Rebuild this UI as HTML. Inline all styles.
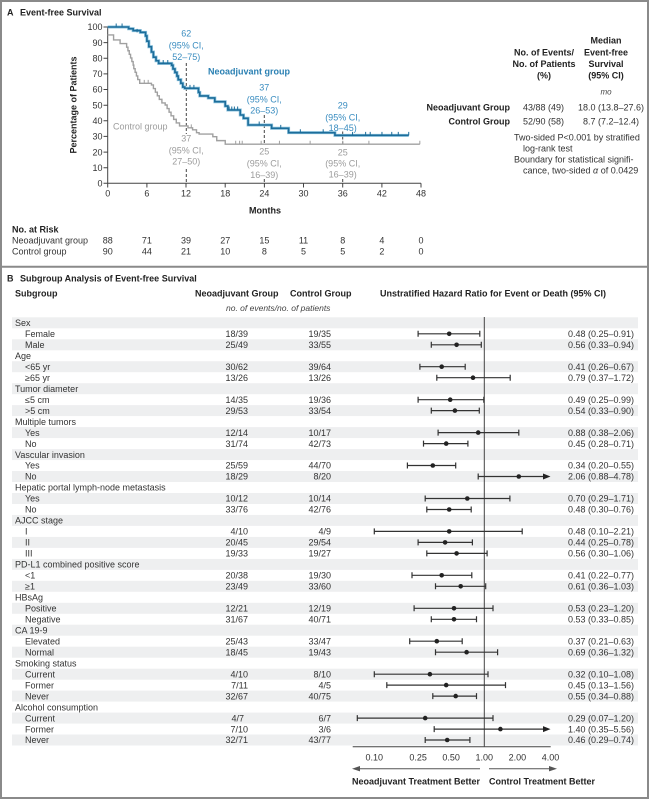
<!DOCTYPE html>
<html><head><meta charset="utf-8"><style>
html,body{margin:0;padding:0;background:#fff;}
svg{display:block;font-family:"Liberation Sans",Arial,sans-serif;font-size:9px;}
.b{font-weight:700;}
.i{font-style:italic;}
</style></head><body>
<svg width="651" height="800" viewBox="0 0 651 800" xmlns="http://www.w3.org/2000/svg">
<rect x="0" y="0" width="651" height="800" fill="#fff"/>
<rect x="1" y="1" width="647" height="797" fill="none" stroke="#8a8a8a" stroke-width="2"/>
<line x1="0" y1="266.7" x2="649" y2="266.7" stroke="#8a8a8a" stroke-width="2"/>

<!-- Panel A -->
<text x="7" y="15.5" class="b" fill="#222">A</text>
<text x="20" y="15.5" class="b" fill="#222">Event-free Survival</text>

<!-- axes -->
<g stroke="#444" stroke-width="1" fill="none">
<line x1="107.7" y1="26.5" x2="107.7" y2="183.3"/>
<line x1="107.7" y1="183.3" x2="421" y2="183.3"/>
<path d="M103.5,27h4.2M103.5,42.6h4.2M103.5,58.3h4.2M103.5,73.9h4.2M103.5,89.5h4.2M103.5,105.2h4.2M103.5,120.8h4.2M103.5,136.4h4.2M103.5,152.1h4.2M103.5,167.7h4.2M103.5,183.3h4.2"/>
<path d="M107.7,183.3v4.2M146.9,183.3v4.2M186,183.3v4.2M225.2,183.3v4.2M264.4,183.3v4.2M303.5,183.3v4.2M342.7,183.3v4.2M381.9,183.3v4.2M421,183.3v4.2"/>
</g>
<g fill="#333" text-anchor="end">
<text x="102.5" y="30.2">100</text>
<text x="102.5" y="45.8">90</text>
<text x="102.5" y="61.5">80</text>
<text x="102.5" y="77.1">70</text>
<text x="102.5" y="92.7">60</text>
<text x="102.5" y="108.4">50</text>
<text x="102.5" y="124">40</text>
<text x="102.5" y="139.6">30</text>
<text x="102.5" y="155.3">20</text>
<text x="102.5" y="170.9">10</text>
<text x="102.5" y="186.5">0</text>
</g>
<g fill="#333" text-anchor="middle">
<text x="107.7" y="196.5">0</text>
<text x="146.9" y="196.5">6</text>
<text x="186" y="196.5">12</text>
<text x="225.2" y="196.5">18</text>
<text x="264.4" y="196.5">24</text>
<text x="303.5" y="196.5">30</text>
<text x="342.7" y="196.5">36</text>
<text x="381.9" y="196.5">42</text>
<text x="421" y="196.5">48</text>
</g>
<text x="265" y="213.5" class="b" fill="#222" text-anchor="middle">Months</text>
<text transform="translate(76.5,105) rotate(-90)" class="b" fill="#222" text-anchor="middle">Percentage of Patients</text>

<!-- dashed reference lines -->
<g stroke="#444" stroke-width="1" stroke-dasharray="3,2" fill="none">
<path d="M186.3,63V134M186.3,169V183"/>
<path d="M264.3,115V145M264.3,179V183"/>
<path d="M342.7,131.5V145M342.7,179V183"/>
</g>

<!-- KM curves -->
<g transform="translate(107.7,183.3) scale(6.53,-1.563)" fill="none">
<path vector-effect="non-scaling-stroke" stroke="#a0a0a0" stroke-width="1.4" d="M0,94.9 H0.9 V91.7 H1.9 V89.4 H2.9 V87.1 H3.1 V84.8 H3.3 V82.5 H3.5 V80.2 H3.7 V77.9 H3.9 V75.6 H4.0 V73.3 H4.2 V71 H4.4 V68.7 H4.6 V66.4 H4.9 V64 H6.7 V62.9 H7.0 V60.6 H7.3 V58.3 H7.6 V56 H7.9 V53.7 H8.3 V51.4 H8.8 V50.1 H9.1 V47.8 H9.4 V45.5 H9.7 V43.2 H10.1 V40.9 H10.5 V38.6 H11.0 V36.7 H12.3 V35.5 H13.0 V34.2 H13.6 V32.4 H14.0 V31.5 H16.1 V29.8 H16.7 V27.3 H18.0 V25 H47.8"/>
<path vector-effect="non-scaling-stroke" stroke="#a0a0a0" stroke-width="1" d="M5.6,64v2.2 M6.2,64v2.2 M12.8,35.5v2.2 M19.6,25v2.2 M20.2,25v2.2 M20.6,25v2.2 M23.5,25v2.2 M26.3,25v2.2 M31,25v2.2 M36,25v2.2 M40,25v2.2 M47.8,25v2.2"/>
<path vector-effect="non-scaling-stroke" stroke="#8cc3de" stroke-width="3" d="M0,100 H3.2 V98.9 H3.9 V97.7 H5.0 V96.6 H5.8 V94.3 H6.0 V90.9 H6.3 V87.4 H6.7 V84 H7.0 V80.7 H7.4 V78.4 H7.8 V76.7 H9.8 V75.5 H10.0 V73.2 H10.3 V70.9 H10.6 V68.6 H10.8 V66.3 H11.2 V64 H11.5 V61.6 H11.8 V60.8 H13.9 V58.2 H14.1 V55.9 H15.4 V54.6 H16.4 V52.2 H18.0 V49.4 H18.4 V46.9 H20.3 V43.7 H20.8 V41.6 H21.5 V37.3 H25.1 V35.2 H27.7 V32.4 H34.8 V30.7 H46.1"/>
<path vector-effect="non-scaling-stroke" stroke="#1d6d9a" stroke-width="1.6" d="M0,100 H3.2 V98.9 H3.9 V97.7 H5.0 V96.6 H5.8 V94.3 H6.0 V90.9 H6.3 V87.4 H6.7 V84 H7.0 V80.7 H7.4 V78.4 H7.8 V76.7 H9.8 V75.5 H10.0 V73.2 H10.3 V70.9 H10.6 V68.6 H10.8 V66.3 H11.2 V64 H11.5 V61.6 H11.8 V60.8 H13.9 V58.2 H14.1 V55.9 H15.4 V54.6 H16.4 V52.2 H18.0 V49.4 H18.4 V46.9 H20.3 V43.7 H20.8 V41.6 H21.5 V37.3 H25.1 V35.2 H27.7 V32.4 H34.8 V30.7 H46.1"/>
<path vector-effect="non-scaling-stroke" stroke="#1d6d9a" stroke-width="1" d="M1.3,100v2.2 M2.2,100v2.2 M4.5,96.6v2.2 M8.5,76.7v2.2 M9.2,76.7v2.2 M12.6,60.8v2.2 M13.2,60.8v2.2 M18.6,46.9v2.2 M19.0,46.9v2.2 M19.4,46.9v2.2 M19.9,46.9v2.2 M23.2,37.3v2.2 M26.5,35.2v2.2 M29.5,32.4v2.2 M33,32.4v2.2 M37.5,30.7v2.2 M39.5,30.7v2.2 M40.2,30.7v2.2 M42,30.7v2.2 M43.5,30.7v2.2 M44.5,30.7v2.2 M46.1,30.7v2.2"/>
</g>

<!-- annotations -->
<g fill="#3a8dc0" text-anchor="middle">
<text x="186.3" y="36.3">62</text>
<text x="186.3" y="48.3">(95% CI,</text>
<text x="186.3" y="60">52–75)</text>
<text x="264.3" y="90.3">37</text>
<text x="264.3" y="102.3">(95% CI,</text>
<text x="264.3" y="113.5">26–53)</text>
<text x="342.7" y="108.3">29</text>
<text x="342.7" y="120.5">(95% CI,</text>
<text x="342.7" y="131">18–45)</text>
</g>
<text x="208" y="74.5" class="b" fill="#2a80b3">Neoadjuvant group</text>
<g fill="#9c9c9c" text-anchor="middle">
<text x="186.3" y="141.3">37</text>
<text x="186.3" y="153.3">(95% CI,</text>
<text x="186.3" y="164.5">27–50)</text>
<text x="264.3" y="154.3">25</text>
<text x="264.3" y="166.3">(95% CI,</text>
<text x="264.3" y="177.8">16–39)</text>
<text x="342.7" y="155.3">25</text>
<text x="342.7" y="166.3">(95% CI,</text>
<text x="342.7" y="177.5">16–39)</text>
</g>
<text x="113" y="129.5" fill="#9c9c9c">Control group</text>

<!-- legend table -->
<g fill="#222" class="b" text-anchor="middle">
<text x="606" y="43.5">Median</text>
<text x="544" y="55.5">No. of Events/</text>
<text x="606" y="55.5">Event-free</text>
<text x="544" y="67">No. of Patients</text>
<text x="606" y="67">Survival</text>
<text x="544" y="78.5">(%)</text>
<text x="606" y="78.5">(95% CI)</text>
</g>
<text x="606" y="94.5" class="i" fill="#444" text-anchor="middle" font-size="8">mo</text>
<g class="b" fill="#222" text-anchor="end">
<text x="510" y="110.5">Neoadjuvant Group</text>
<text x="510" y="124.5">Control Group</text>
</g>
<g fill="#333">
<text x="523" y="110.5">43/88 (49)</text>
<text x="578" y="110.5">18.0 (13.8–27.6)</text>
<text x="523" y="124.5">52/90 (58)</text>
<text x="583" y="124.5">8.7 (7.2–12.4)</text>
<text x="514" y="140.5">Two-sided P&lt;0.001 by stratified</text>
<text x="523" y="151.5">log-rank test</text>
<text x="514" y="162.5">Boundary for statistical signifi-</text>
<text x="523" y="173.5">cance, two-sided <tspan class="i">α</tspan> of 0.0429</text>
</g>

<!-- risk table -->
<text x="12" y="232.5" class="b" fill="#222">No. at Risk</text>
<text x="12" y="243.5" fill="#333">Neoadjuvant group</text>
<text x="12" y="254.3" fill="#333">Control group</text>
<g fill="#333" text-anchor="middle">
<text x="107.7" y="243.5">88</text><text x="146.9" y="243.5">71</text><text x="186" y="243.5">39</text><text x="225.2" y="243.5">27</text><text x="264.4" y="243.5">15</text><text x="303.5" y="243.5">11</text><text x="342.7" y="243.5">8</text><text x="381.9" y="243.5">4</text><text x="421" y="243.5">0</text>
<text x="107.7" y="254.3">90</text><text x="146.9" y="254.3">44</text><text x="186" y="254.3">21</text><text x="225.2" y="254.3">10</text><text x="264.4" y="254.3">8</text><text x="303.5" y="254.3">5</text><text x="342.7" y="254.3">5</text><text x="381.9" y="254.3">2</text><text x="421" y="254.3">0</text>
</g>

<!-- Panel B -->
<text x="7" y="281.5" class="b" fill="#222">B</text>
<text x="20" y="281.5" class="b" fill="#222">Subgroup Analysis of Event-free Survival</text>
<g class="b" fill="#222">
<text x="15" y="296.5">Subgroup</text>
<text x="195" y="296.5">Neoadjuvant Group</text>
<text x="290" y="296.5">Control Group</text>
<text x="380" y="296.5">Unstratified Hazard Ratio for Event or Death (95% CI)</text>
</g>
<text x="226" y="311" class="i" fill="#444" font-size="8.5">no. of events/no. of patients</text>

<!-- shading -->
<g fill="#eeeff0">
<rect x="12" y="317.3" width="626" height="11"/>
<rect x="12" y="339.3" width="626" height="11"/>
<rect x="12" y="361.2" width="626" height="11"/>
<rect x="12" y="383.2" width="626" height="11"/>
<rect x="12" y="405.1" width="626" height="11"/>
<rect x="12" y="427.1" width="626" height="11"/>
<rect x="12" y="449.1" width="626" height="11"/>
<rect x="12" y="471.0" width="626" height="11"/>
<rect x="12" y="493.0" width="626" height="11"/>
<rect x="12" y="514.9" width="626" height="11"/>
<rect x="12" y="536.9" width="626" height="11"/>
<rect x="12" y="558.9" width="626" height="11"/>
<rect x="12" y="580.8" width="626" height="11"/>
<rect x="12" y="602.8" width="626" height="11"/>
<rect x="12" y="624.7" width="626" height="11"/>
<rect x="12" y="646.7" width="626" height="11"/>
<rect x="12" y="668.7" width="626" height="11"/>
<rect x="12" y="690.6" width="626" height="11"/>
<rect x="12" y="712.6" width="626" height="11"/>
<rect x="12" y="734.5" width="626" height="11"/>
</g>

<!-- row labels -->
<g fill="#333">
<text x="15" y="326">Sex</text>
<text x="25" y="337">Female</text>
<text x="25" y="348">Male</text>
<text x="15" y="358.9">Age</text>
<text x="25" y="369.9">&lt;65 yr</text>
<text x="25" y="380.9">≥65 yr</text>
<text x="15" y="391.9">Tumor diameter</text>
<text x="25" y="402.9">≤5 cm</text>
<text x="25" y="413.8">&gt;5 cm</text>
<text x="15" y="424.8">Multiple tumors</text>
<text x="25" y="435.8">Yes</text>
<text x="25" y="446.8">No</text>
<text x="15" y="457.8">Vascular invasion</text>
<text x="25" y="468.7">Yes</text>
<text x="25" y="479.7">No</text>
<text x="15" y="490.7">Hepatic portal lymph-node metastasis</text>
<text x="25" y="501.7">Yes</text>
<text x="25" y="512.7">No</text>
<text x="15" y="523.6">AJCC stage</text>
<text x="25" y="534.6">I</text>
<text x="25" y="545.6">II</text>
<text x="25" y="556.6">III</text>
<text x="15" y="567.6">PD-L1 combined positive score</text>
<text x="25" y="578.5">&lt;1</text>
<text x="25" y="589.5">≥1</text>
<text x="15" y="600.5">HBsAg</text>
<text x="25" y="611.5">Positive</text>
<text x="25" y="622.5">Negative</text>
<text x="15" y="633.4">CA 19-9</text>
<text x="25" y="644.4">Elevated</text>
<text x="25" y="655.4">Normal</text>
<text x="15" y="666.4">Smoking status</text>
<text x="25" y="677.4">Current</text>
<text x="25" y="688.3">Former</text>
<text x="25" y="699.3">Never</text>
<text x="15" y="710.3">Alcohol consumption</text>
<text x="25" y="721.3">Current</text>
<text x="25" y="732.3">Former</text>
<text x="25" y="743.2">Never</text>
</g>

<!-- neo counts -->
<g fill="#333" text-anchor="end">
<text x="248" y="337">18/39</text><text x="331" y="337">19/35</text><text x="634" y="337">0.48 (0.25–0.91)</text>
<text x="248" y="348">25/49</text><text x="331" y="348">33/55</text><text x="634" y="348">0.56 (0.33–0.94)</text>
<text x="248" y="369.9">30/62</text><text x="331" y="369.9">39/64</text><text x="634" y="369.9">0.41 (0.26–0.67)</text>
<text x="248" y="380.9">13/26</text><text x="331" y="380.9">13/26</text><text x="634" y="380.9">0.79 (0.37–1.72)</text>
<text x="248" y="402.9">14/35</text><text x="331" y="402.9">19/36</text><text x="634" y="402.9">0.49 (0.25–0.99)</text>
<text x="248" y="413.8">29/53</text><text x="331" y="413.8">33/54</text><text x="634" y="413.8">0.54 (0.33–0.90)</text>
<text x="248" y="435.8">12/14</text><text x="331" y="435.8">10/17</text><text x="634" y="435.8">0.88 (0.38–2.06)</text>
<text x="248" y="446.8">31/74</text><text x="331" y="446.8">42/73</text><text x="634" y="446.8">0.45 (0.28–0.71)</text>
<text x="248" y="468.7">25/59</text><text x="331" y="468.7">44/70</text><text x="634" y="468.7">0.34 (0.20–0.55)</text>
<text x="248" y="479.7">18/29</text><text x="331" y="479.7">8/20</text><text x="634" y="479.7">2.06 (0.88–4.78)</text>
<text x="248" y="501.7">10/12</text><text x="331" y="501.7">10/14</text><text x="634" y="501.7">0.70 (0.29–1.71)</text>
<text x="248" y="512.7">33/76</text><text x="331" y="512.7">42/76</text><text x="634" y="512.7">0.48 (0.30–0.76)</text>
<text x="248" y="534.6">4/10</text><text x="331" y="534.6">4/9</text><text x="634" y="534.6">0.48 (0.10–2.21)</text>
<text x="248" y="545.6">20/45</text><text x="331" y="545.6">29/54</text><text x="634" y="545.6">0.44 (0.25–0.78)</text>
<text x="248" y="556.6">19/33</text><text x="331" y="556.6">19/27</text><text x="634" y="556.6">0.56 (0.30–1.06)</text>
<text x="248" y="578.5">20/38</text><text x="331" y="578.5">19/30</text><text x="634" y="578.5">0.41 (0.22–0.77)</text>
<text x="248" y="589.5">23/49</text><text x="331" y="589.5">33/60</text><text x="634" y="589.5">0.61 (0.36–1.03)</text>
<text x="248" y="611.5">12/21</text><text x="331" y="611.5">12/19</text><text x="634" y="611.5">0.53 (0.23–1.20)</text>
<text x="248" y="622.5">31/67</text><text x="331" y="622.5">40/71</text><text x="634" y="622.5">0.53 (0.33–0.85)</text>
<text x="248" y="644.4">25/43</text><text x="331" y="644.4">33/47</text><text x="634" y="644.4">0.37 (0.21–0.63)</text>
<text x="248" y="655.4">18/45</text><text x="331" y="655.4">19/43</text><text x="634" y="655.4">0.69 (0.36–1.32)</text>
<text x="248" y="677.4">4/10</text><text x="331" y="677.4">8/10</text><text x="634" y="677.4">0.32 (0.10–1.08)</text>
<text x="248" y="688.3">7/11</text><text x="331" y="688.3">4/5</text><text x="634" y="688.3">0.45 (0.13–1.56)</text>
<text x="248" y="699.3">32/67</text><text x="331" y="699.3">40/75</text><text x="634" y="699.3">0.55 (0.34–0.88)</text>
<text x="244" y="721.3">4/7</text><text x="331" y="721.3">6/7</text><text x="634" y="721.3">0.29 (0.07–1.20)</text>
<text x="248" y="732.3">7/10</text><text x="331" y="732.3">3/6</text><text x="634" y="732.3">1.40 (0.35–5.56)</text>
<text x="248" y="743.2">32/71</text><text x="331" y="743.2">43/77</text><text x="634" y="743.2">0.46 (0.29–0.74)</text>
</g>

<!-- forest plot -->
<line x1="484.3" y1="317" x2="484.3" y2="746.7" stroke="#444" stroke-width="1"/>
<g stroke="#333" stroke-width="1.2" fill="none">
<path d="M418.1,333.8H479.8M418.1,330.8v6M479.8,330.8v6"/>
<path d="M431.3,344.8H481.3M431.3,341.8v6M481.3,341.8v6"/>
<path d="M419.9,366.7H465.2M419.9,363.7v6M465.2,363.7v6"/>
<path d="M436.8,377.7H510.2M436.8,374.7v6M510.2,374.7v6"/>
<path d="M418.1,399.7H483.8M418.1,396.7v6M483.8,396.7v6"/>
<path d="M431.3,410.6H479.3M431.3,407.6v6M479.3,407.6v6"/>
<path d="M438.1,432.6H518.8M438.1,429.6v6M518.8,429.6v6"/>
<path d="M423.5,443.6H467.9M423.5,440.6v6M467.9,440.6v6"/>
<path d="M407.4,465.5H455.7M407.4,462.5v6M455.7,462.5v6"/>
<path d="M478.2,476.5H545M478.2,473.5v6"/>
<path d="M425.2,498.5H509.9M425.2,495.5v6M509.9,495.5v6"/>
<path d="M426.8,509.5H471.2M426.8,506.5v6M471.2,506.5v6"/>
<path d="M374.3,531.4H522.2M374.3,528.4v6M522.2,528.4v6"/>
<path d="M418.1,542.4H472.4M418.1,539.4v6M472.4,539.4v6"/>
<path d="M426.8,553.4H487.1M426.8,550.4v6M487.1,550.4v6"/>
<path d="M412,575.3H471.8M412,572.3v6M471.8,572.3v6"/>
<path d="M435.5,586.3H485.7M435.5,583.3v6M485.7,583.3v6"/>
<path d="M414.1,608.3H493M414.1,605.3v6M493,605.3v6"/>
<path d="M431.3,619.3H476.5M431.3,616.3v6M476.5,616.3v6"/>
<path d="M409.7,641.2H462.2M409.7,638.2v6M462.2,638.2v6"/>
<path d="M435.5,652.2H497.6M435.5,649.2v6M497.6,649.2v6"/>
<path d="M374.3,674.2H488M374.3,671.2v6M488,671.2v6"/>
<path d="M386.8,685.1H505.5M386.8,682.1v6M505.5,682.1v6"/>
<path d="M432.8,696.1H476.5M432.8,693.1v6M476.5,693.1v6"/>
<path d="M357.3,718.1H493M357.3,715.1v6M493,715.1v6"/>
<path d="M434.2,729.1H545M434.2,726.1v6"/>
<path d="M425.2,740H469.9M425.2,737v6M469.9,737v6"/>
</g>
<g fill="#222">
<polygon points="543,473.5 550.5,476.5 543,479.5"/>
<polygon points="543,726.1 550.5,729.1 543,732.1"/>
<circle cx="449.2" cy="333.8" r="2.3"/>
<circle cx="456.6" cy="344.8" r="2.3"/>
<circle cx="441.7" cy="366.7" r="2.3"/>
<circle cx="473" cy="377.7" r="2.3"/>
<circle cx="450.2" cy="399.7" r="2.3"/>
<circle cx="454.9" cy="410.6" r="2.3"/>
<circle cx="478.2" cy="432.6" r="2.3"/>
<circle cx="446.2" cy="443.6" r="2.3"/>
<circle cx="432.8" cy="465.5" r="2.3"/>
<circle cx="518.8" cy="476.5" r="2.3"/>
<circle cx="467.3" cy="498.5" r="2.3"/>
<circle cx="449.2" cy="509.5" r="2.3"/>
<circle cx="449.2" cy="531.4" r="2.3"/>
<circle cx="445.1" cy="542.4" r="2.3"/>
<circle cx="456.6" cy="553.4" r="2.3"/>
<circle cx="441.7" cy="575.3" r="2.3"/>
<circle cx="460.7" cy="586.3" r="2.3"/>
<circle cx="454" cy="608.3" r="2.3"/>
<circle cx="454" cy="619.3" r="2.3"/>
<circle cx="436.8" cy="641.2" r="2.3"/>
<circle cx="466.6" cy="652.2" r="2.3"/>
<circle cx="429.9" cy="674.2" r="2.3"/>
<circle cx="446.2" cy="685.1" r="2.3"/>
<circle cx="455.7" cy="696.1" r="2.3"/>
<circle cx="425.2" cy="718.1" r="2.3"/>
<circle cx="500.4" cy="729.1" r="2.3"/>
<circle cx="447.2" cy="740" r="2.3"/>
</g>

<!-- HR axis -->
<line x1="352.7" y1="746.7" x2="550.7" y2="746.7" stroke="#444" stroke-width="1"/>
<g fill="#333" text-anchor="middle">
<text x="374.3" y="760.3">0.10</text>
<text x="418.1" y="760.3">0.25</text>
<text x="451.2" y="760.3">0.50</text>
<text x="484.3" y="760.3">1.00</text>
<text x="517.4" y="760.3">2.00</text>
<text x="550.5" y="760.3">4.00</text>
</g>
<g stroke="#555" stroke-width="1">
<line x1="358" y1="768.7" x2="480" y2="768.7"/>
<line x1="489" y1="768.7" x2="551" y2="768.7"/>
</g>
<g fill="#555">
<polygon points="352,768.7 360,766 360,771.4"/>
<polygon points="557,768.7 549,766 549,771.4"/>
</g>
<g class="b" fill="#222">
<text x="352" y="784.5">Neoadjuvant Treatment Better</text>
<text x="489" y="784.5">Control Treatment Better</text>
</g>
</svg>
</body></html>
